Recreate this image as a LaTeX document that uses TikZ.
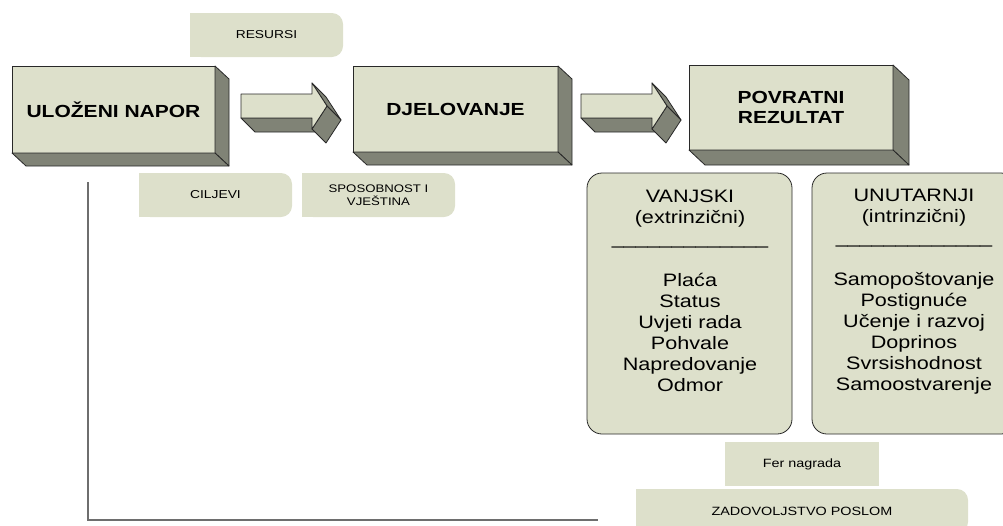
\documentclass[tikz,border=0pt]{standalone}
\usepackage{fontspec}
\setmainfont{Liberation Sans}[FakeStretch=1.2]
\usetikzlibrary{calc,backgrounds}
\definecolor{lightc}{RGB}{221,224,203}
\definecolor{sidec}{RGB}{128,131,118}
\definecolor{edgec}{RGB}{40,40,40}
\definecolor{linec}{RGB}{110,110,110}
\tikzset{
  cubeface/.style={fill=lightc, draw=edgec, line width=0.8pt, inner sep=0pt, outer sep=0pt,
    font=\bfseries\fontsize{17.5}{20}\selectfont, align=center},
  sideface/.style={fill=sidec, draw=edgec, line width=0.8pt, line join=round},
  frontface/.style={fill=lightc, draw=edgec, line width=0.8pt, line join=round},
  lbl/.style={inner sep=0pt, outer sep=0pt, font=\fontsize{11.5}{13}\selectfont, align=center,
    minimum height=44pt},
  listbox/.style={fill=lightc, draw=edgec, line width=0.8pt, rounded corners=15pt, inner sep=0pt,
    minimum width=205pt, minimum height=261pt},
  listtext/.style={font=\fontsize{18}{21}\selectfont, align=center, inner sep=0pt},
  guide/.style={draw=linec, line width=1.5pt},
}
\newcommand{\cubesides}[3]{%
  \filldraw[sideface] (#1.north east) -- ($(#1.north east)+(#2,#3)$) -- ($(#1.south east)+(#2,#3)$) -- (#1.south east) -- cycle;
  \filldraw[sideface] (#1.south west) -- (#1.south east) -- ($(#1.south east)+(#2,#3)$) -- ($(#1.south west)+(#2,#3)$) -- cycle;
}
\newcommand{\roundright}[1]{%
  \begin{scope}[on background layer]
    \fill[lightc, rounded corners=11pt] (#1.south west) rectangle (#1.north east);
    \fill[lightc] (#1.south west) rectangle (#1.north);
  \end{scope}
}
\newcommand{\blockarrow}[1]{%
  \begin{scope}[shift={(#1)}]
    \filldraw[sideface] (0,24) -- (71,24) -- (85,38) -- (14,38) -- cycle;
    \filldraw[sideface] (71,-11) -- (86,12) -- (100,26) -- (85,3) -- cycle;
    \filldraw[sideface] (86,12) -- (71,35) -- (85,49) -- (100,26) -- cycle;
    \filldraw[frontface] (0,0) -- (71,0) -- (71,-11) -- (86,12) -- (71,35) -- (71,24) -- (0,24) -- cycle;
  \end{scope}
}
\begin{document}
\begin{tikzpicture}[x=1pt, y=-1pt]
\useasboundingbox (0,0) rectangle (1003,525);
\clip (0,0) rectangle (1003,525);

% guide line
\coordinate (g1) at (88,182);
\coordinate (g2) at (598,520);
\draw[guide] (g1) |- (g2);

% cubes
\node[cubeface, minimum width=203pt, minimum height=87pt] (napor) at (113.5,109.5) {ULOŽENI NAPOR};
\cubesides{napor}{14}{13}
\node[cubeface, minimum width=205pt, minimum height=86pt] (djel) at (455.5,109) {DJELOVANJE};
\cubesides{djel}{14}{13}
\node[cubeface, minimum width=204pt, minimum height=85pt] (povr) at (791,107.5) {POVRATNI\\REZULTAT};
\cubesides{povr}{16}{15}

% block arrows
\coordinate (arr1) at (241,94);
\blockarrow{arr1}
\coordinate (arr2) at (581,94);
\blockarrow{arr2}

% labels
\node[lbl, minimum width=153pt] (res) at (266.5,35) {RESURSI};
\roundright{res}
\node[lbl, minimum width=153pt] (cilj) at (215.5,195) {CILJEVI};
\roundright{cilj}
\node[lbl, minimum width=153pt, font=\fontsize{11}{13}\selectfont] (spos) at (378.5,195) {SPOSOBNOST I\\VJEŠTINA};
\roundright{spos}
\node[lbl, minimum width=154pt, fill=lightc, font=\fontsize{12}{14}\selectfont] (fer) at (802,464) {Fer nagrada};
\node[lbl, minimum width=332pt, font=\fontsize{12}{14}\selectfont] (zad) at (802,511) {ZADOVOLJSTVO POSLOM};
\roundright{zad}

% list boxes
\node[listbox] (vanj) at (689.5,303.5) {};
\node[listtext] (vanjt) at (690,290.5) {VANJSKI\\(extrinzični)\\\_\_\_\_\_\_\_\_\_\_\_\_\_\\[21pt]Plaća\\Status\\Uvjeti rada\\Pohvale\\Napredovanje\\Odmor};
\node[listbox, minimum width=204pt] (unut) at (914,303.5) {};
\node[listtext] (unutt) at (914,292) {UNUTARNJI\\(intrinzični)\\\_\_\_\_\_\_\_\_\_\_\_\_\_\\[21pt]Samopoštovanje\\Postignuće\\Učenje i razvoj\\Doprinos\\Svrsishodnost\\Samoostvarenje};
\end{tikzpicture}
\end{document}
